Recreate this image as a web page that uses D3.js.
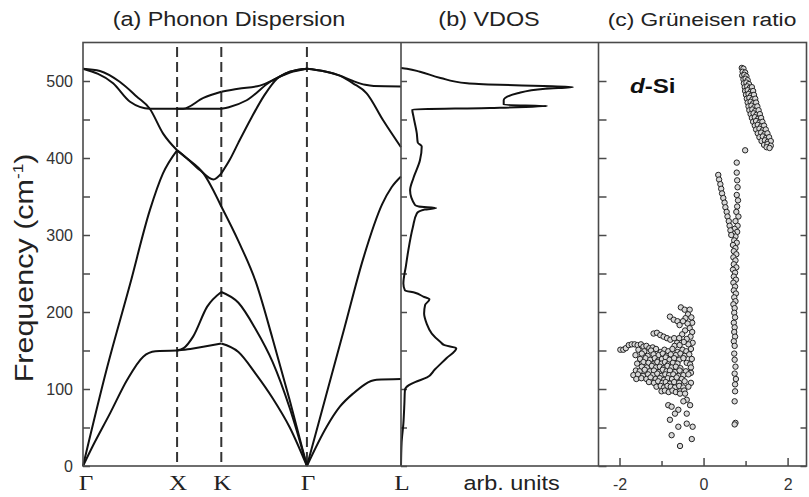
<!DOCTYPE html>
<html>
<head>
<meta charset="utf-8">
<script src="https://cdn.jsdelivr.net/npm/d3@7"></script>
<style>
body { margin: 0; background: #fff; }
svg { display: block; font-family: "Liberation Sans", Arial, sans-serif; }
</style>
</head>
<body>
<script>
var width = 809,
    height = 497;

// high symmetry points along the path (path units)
var kLabels = ["\u0393", "X", "K", "\u0393", "L"];
var kPoints = [0, 1, 1.47, 2.38, 3.38];

// dispersion branches, [k, frequency in cm-1]
var gxTA = [[0,0],[0.1,25],[0.29,69],[0.47,112],[0.64,142],[0.77,149],[1,150]];
var gxLA = [[0,0],[0.25,125],[0.5,236],[0.71,332],[0.85,380],[1,410]];
var gxLO = [[0,516],[0.18,513],[0.39,499],[0.57,480],[0.71,464],[0.85,432],[1,410]];
var gxTO = [[0,516],[0.32,497],[0.5,473],[0.71,464],[1,464]];

var xkTO1 = [[1,464],[1.47,464]];
var xkTO2 = [[1,464],[1.064,464],[1.28,478],[1.47,486]];
var xkLO = [[1,410],[1.1,400],[1.245,384],[1.386,372],[1.47,380]];
var xkLA = [[1,410],[1.1,400],[1.28,380],[1.47,337]];
var xkTA1 = [[1,150],[1.07,153],[1.17,168],[1.32,207],[1.47,226]];
var xkTA2 = [[1,150],[1.14,152],[1.47,159]];

var kgTO1 = [[1.47,486],[1.65,490],[1.88,494],[2.05,503],[2.2,512],[2.38,516]];
var kgTO2 = [[1.47,464],[1.55,466],[1.74,475],[1.99,499],[2.2,511],[2.38,516]];
var kgLO = [[1.47,380],[1.561,398],[1.652,420],[1.789,452],[1.925,481],[2.062,503],[2.198,512],[2.38,516]];
var kgLA = [[1.47,337],[1.652,292],[1.834,240],[2.016,165],[2.198,85],[2.38,0]];
var kgTA1 = [[1.47,226],[1.652,212],[1.834,178],[2.016,135],[2.198,75],[2.38,0]];
var kgTA2 = [[1.47,159],[1.652,148],[1.834,120],[2.016,88],[2.198,50],[2.38,0]];

var glTO = [[2.38,516],[2.55,513],[2.73,507],[2.87,500],[3.0,495],[3.09,493.5],[3.38,493]];
var glLO = [[2.38,516],[2.55,513],[2.73,507],[2.87,497],[3.015,484],[3.19,449],[3.38,414]];
var glLA = [[2.38,0],[2.58,90],[2.78,180],[2.98,270],[3.18,340],[3.28,362],[3.38,376]];
var glTA = [[2.38,0],[2.59,51],[2.73,77],[2.87,94],[3.12,112],[3.38,113]];

var branches = [gxTA, gxLA, gxLO, gxTO, xkTO1, xkTO2, xkLO, xkLA, xkTA1, xkTA2,
                kgTO1, kgTO2, kgLO, kgLA, kgTA1, kgTA2, glTO, glLO, glLA, glTA];

// vibrational density of states (arb. units)
var vdosFreq = [0, 30, 55, 80, 99, 105, 109, 115, 125, 140, 153, 157, 161, 172, 185, 198, 209, 216.5,
                220, 225, 228, 237, 260, 280, 310, 328, 333, 335, 337, 339, 358, 374, 397, 415, 420,
                432, 454, 463, 465, 467.5, 469, 475, 484, 490, 492, 493.5, 495, 497, 504, 512, 516, 517];
var vdosVal = [0, 0.3, 1.2, 1.7, 2.0, 4, 7.1, 13.2, 17, 23, 28, 22, 20, 15.6, 13, 11.7, 12.2, 14.4,
               11.3, 7.1, 2.0, 1.2, 2.5, 3.7, 6, 8, 12, 17.8, 9, 7.1, 4.6, 6.3, 9.6, 10.5, 8.5,
               8, 6.3, 5.7, 45, 74, 52, 52, 59, 73, 87, 72, 50, 33.5, 20, 9.6, 3, 0];

// Grueneisen ratio, [gamma, frequency]
var gruTop = [[0.91,517],[0.95,516],[0.93,512],[0.99,511],[0.92,507],[0.97,508],[1.02,506],
  [0.95,502],[1.00,503],[1.05,501],[0.96,497],[1.02,498],[1.08,496],
  [0.98,492],[1.04,493],[1.10,491],[1.15,492],[0.99,487],[1.05,488],[1.12,486],[1.18,487],
  [1.01,482],[1.07,483],[1.13,481],[1.20,482],[1.03,477],[1.09,478],[1.16,476],[1.23,477],
  [1.05,472],[1.12,473],[1.18,471],[1.25,472],[1.07,467],[1.14,468],[1.21,466],[1.28,467],
  [1.09,462],[1.16,463],[1.23,461],[1.31,462],[1.12,457],[1.19,458],[1.26,456],[1.34,457],
  [1.15,452],[1.22,453],[1.30,451],[1.37,452],[1.18,447],[1.25,448],[1.33,446],[1.40,447],
  [1.22,442],[1.29,443],[1.37,441],[1.44,442],[1.25,437],[1.33,438],[1.41,436],[1.48,437],
  [1.29,432],[1.37,433],[1.45,431],[1.52,432],[1.33,427],[1.41,428],[1.49,426],[1.56,427],
  [1.38,422],[1.46,423],[1.53,421],[1.60,422],[1.44,417],[1.52,418],[1.60,416],
  [1.50,414],[1.57,413],[0.99,410]];

var gruMid = [[0.79,394],[0.79,381],[0.80,371],[0.81,362],[0.79,352],[0.82,345],[0.80,337],[0.78,330],
  [0.83,324],[0.76,318],[0.81,312],[0.74,308],[0.80,304],[0.70,302],[0.76,298],[0.73,293],[0.79,290],
  [0.70,287],[0.76,283],[0.72,279],[0.78,275],[0.71,271],[0.76,267],[0.72,262],[0.78,258],[0.70,255],
  [0.75,251],[0.72,246],[0.77,242],[0.71,238],[0.75,233],[0.72,228],[0.77,224],[0.73,219],[0.76,214],
  [0.71,210],[0.74,205],[0.73,199],[0.75,193],[0.72,186],[0.74,180],[0.73,174],[0.75,168],[0.72,162],
  [0.74,156],[0.73,146],[0.74,138],[0.76,129],[0.74,120],[0.77,113],[0.75,106],[0.75,97],[0.74,84],
  [0.76,56],[0.74,54],
  [0.35,378],[0.37,372],[0.40,366],[0.42,360],[0.44,354],[0.47,348],[0.50,342],[0.52,336],[0.55,330],
  [0.57,324],[0.60,318],[0.62,312],[0.64,306],[0.66,300]];

var gruLow = [[-0.54,206],[-0.45,203],[-0.33,203],[-0.37,197],[-0.29,193],[-0.43,192],[-0.80,194],
  [-0.71,190],[-0.62,188],[-0.49,188],[-0.27,186],[-0.38,185],[-0.57,183],[-0.33,179],[-0.27,174],
  [-0.44,176],[-0.51,171],[-1.19,172],[-1.11,173],[-1.03,170],[-0.95,168],[-0.87,166],[-0.79,164],
  [-0.70,166],[-0.31,168],[-0.40,165],[-0.58,166],[-0.63,160],[-0.26,160],[-0.36,158],[-0.47,161],
  [-0.69,156],[-0.57,157],
  [-1.98,151],[-1.91,151],[-1.85,153],[-1.78,157],[-1.71,158],[-1.64,158],[-1.57,157],[-1.49,158],
  [-1.43,155],[-1.36,156],[-1.29,153],[-1.21,154],
  [-1.55,151],[-1.41,149],[-1.25,150],[-1.13,152],[-1.02,148],[-0.93,151],[-0.84,149],[-0.74,152],
  [-0.62,148],[-0.50,151],[-0.41,149],[-0.30,152],
  [-1.62,144],[-1.47,146],[-1.33,143],[-1.19,145],[-1.07,144],[-0.97,146],[-0.88,143],[-0.78,145],
  [-0.66,144],[-0.55,146],[-0.45,143],[-0.34,145],
  [-1.51,139],[-1.38,140],[-1.27,138],[-1.16,140],[-1.08,137],[-0.99,139],[-0.90,141],[-0.81,138],
  [-0.70,140],[-0.58,138],[-0.48,140],[-0.28,139],
  [-1.58,133],[-1.43,135],[-1.31,134],[-1.20,132],[-1.10,135],[-1.00,133],[-0.92,135],[-0.84,132],
  [-0.73,134],[-0.62,133],[-0.40,134],[-0.32,132],
  [-1.47,129],[-1.35,128],[-1.23,130],[-1.13,128],[-1.04,129],[-0.95,127],[-0.86,130],[-0.76,128],
  [-0.66,129],[-0.55,127],[-0.30,128],
  [-1.61,124],[-1.52,123],[-1.40,125],[-1.28,123],[-1.18,124],[-1.06,122],[-0.97,125],[-0.88,123],
  [-0.80,124],[-0.68,122],[-0.57,124],[-0.42,123],[-0.30,121],
  [-1.67,118],[-1.56,119],[-1.44,117],[-1.32,119],[-1.21,118],[-1.10,120],[-1.00,117],[-0.91,119],
  [-0.82,118],[-0.72,119],[-0.60,117],[-0.48,118],[-0.36,119],
  [-1.60,113],[-1.48,114],[-1.36,113],[-1.26,115],[-1.14,113],[-1.04,114],[-0.94,112],[-0.85,114],
  [-0.75,113],[-0.64,115],[-0.52,113],
  [-1.30,109],[-1.18,108],[-1.08,110],[-0.98,108],[-0.90,109],[-0.80,107],[-0.70,109],[-0.58,108],
  [-0.45,110],[-0.30,108],
  [-1.12,103],[-1.02,104],[-0.94,102],[-0.86,104],[-0.78,103],[-0.68,102],[-0.58,104],[-0.48,102],[-0.36,103],
  [-1.00,97],[-0.92,98],[-0.83,96],[-0.74,98],[-0.66,96],[-0.56,97],[-0.46,98],
  [-0.56,94],[-0.44,94],[-0.40,86],[-0.48,84],[-0.84,79],[-0.76,77],[-0.32,79],[-0.60,73],[-0.68,68],
  [-0.40,68],[-0.80,60],[-0.40,55],[-0.26,51],[-0.60,51],[-0.76,40],[-0.28,35],[-0.56,26]];

var freqTicks = [0, 50, 100, 150, 200, 250, 300, 350, 400, 450, 500];
var gammaTicks = [-2, -1, 0, 1, 2];

var svg = d3.select("body").append("svg")
    .attr("width", width)
    .attr("height", height);

var y = d3.scaleLinear().domain([0, 550]).range([466, 42.5]);
var xk = d3.scaleLinear().domain([0, 3.38]).range([83, 401]);
var xd = d3.scaleLinear().domain([0, 100]).range([401, 598.5]);
var xg = d3.scaleLinear().domain([-2.5, 2.45]).range([598.5, 806.5]);

var frameColor = "#4a4a4a";

// stretched text helper (the figure is slightly wider than tall)
function label(txt, x, yy, size, sx, anchor) {
  var g = svg.append("g").attr("transform", "translate(" + x + "," + yy + ")");
  return g.append("text")
    .attr("transform", "scale(" + sx + ",1)")
    .attr("text-anchor", anchor || "middle")
    .style("font-size", size + "px")
    .style("fill", "#222")
    .text(txt);
}

// titles
label("(a) Phonon Dispersion", 229, 26, 19.5, 1.2);
label("(b) VDOS", 489, 26, 19.5, 1.2);
label("(c) Gr\u00fcneisen ratio", 702, 26, 19, 1.2);

// y axis on the left of panel (a)
var yAxis = d3.axisLeft(y).tickValues(freqTicks)
    .tickSizeInner(-7).tickSizeOuter(0).tickPadding(10)
    .tickFormat(function(d) { return d % 100 === 0 ? d : ""; });
var ya = svg.append("g").attr("transform", "translate(83,0)").call(yAxis);
ya.select(".domain").remove();
ya.selectAll("line").attr("stroke", frameColor).attr("stroke-width", 1.5);
ya.selectAll("text").style("font-size", "16px").style("fill", "#333")
  .style("font-family", "Liberation Sans, Arial, sans-serif");

// inward ticks on the panel separators
var bTicks = svg.append("g").attr("transform", "translate(401,0)")
    .call(d3.axisRight(y).tickValues(freqTicks).tickSizeInner(6).tickSizeOuter(0).tickFormat(""));
var cTicks = svg.append("g").attr("transform", "translate(598.5,0)")
    .call(d3.axisRight(y).tickValues(freqTicks).tickSizeInner(8).tickSizeOuter(0).tickFormat(""));
var rTicks = svg.append("g").attr("transform", "translate(806.5,0)")
    .call(d3.axisLeft(y).tickValues(freqTicks).tickSizeInner(6).tickSizeOuter(0).tickFormat(""));
[bTicks, cTicks, rTicks].forEach(function(a) {
  a.select(".domain").remove();
  a.selectAll("line").attr("stroke", frameColor).attr("stroke-width", 1.5);
});

// gamma axis
var gAxis = d3.axisBottom(xg).tickValues(gammaTicks)
    .tickSizeInner(-8).tickSizeOuter(0).tickPadding(13)
    .tickFormat(function(d) { return d % 2 === 0 ? d : ""; });
var ga = svg.append("g").attr("transform", "translate(0,466)").call(gAxis);
ga.select(".domain").remove();
ga.selectAll("line").attr("stroke", frameColor).attr("stroke-width", 1.5)
  .attr("y2", function(d) { return d % 2 === 0 ? -8 : -5; });
ga.selectAll("text").style("font-size", "16px").style("fill", "#333")
  .style("font-family", "Liberation Sans, Arial, sans-serif");

// dashed lines at the inner symmetry points
svg.append("g").selectAll("line")
  .data(kPoints.slice(1, 4)).enter().append("line")
  .attr("x1", function(d) { return xk(d); })
  .attr("x2", function(d) { return xk(d); })
  .attr("y1", 47).attr("y2", 466)
  .attr("stroke", "#333").attr("stroke-width", 2)
  .attr("stroke-dasharray", "10,5");

// dispersion curves
var line = d3.line()
  .x(function(d) { return xk(d[0]); })
  .y(function(d) { return y(d[1]); })
  .curve(d3.curveMonotoneX);

svg.append("g").selectAll("path")
  .data(branches).enter().append("path")
  .attr("d", line)
  .attr("fill", "none").attr("stroke", "#111").attr("stroke-width", 2);

// k labels
kPoints.forEach(function(k, i) {
  var g = svg.append("g").attr("transform", "translate(" + (xk(k) + (i === 0 ? 3 : 1)) + ",490)");
  g.append("text").attr("transform", "scale(1.2,1)").attr("text-anchor", "middle")
    .style("font-family", "Liberation Serif, Times New Roman, serif")
    .style("font-size", "21px").style("fill", "#222")
    .text(kLabels[i]);
});

// VDOS
var vdos = vdosFreq.map(function(f, i) { return [vdosVal[i], f]; });
svg.append("path")
  .datum(vdos)
  .attr("d", d3.line()
    .x(function(d) { return xd(d[0]); })
    .y(function(d) { return y(d[1]); })
    .curve(d3.curveMonotoneY))
  .attr("fill", "none").attr("stroke", "#111").attr("stroke-width", 2);

label("arb. units", 511.5, 490, 19.5, 1.2);

// Grueneisen ratio scatter
svg.append("g").selectAll("circle")
  .data(gruLow.concat(gruMid, gruTop)).enter().append("circle")
  .attr("cx", function(d) { return xg(d[0]); })
  .attr("cy", function(d) { return y(d[1]); })
  .attr("r", 2.7)
  .attr("fill", "#d8d8d8").attr("stroke", "#222").attr("stroke-width", 1);

var ds = svg.append("g").attr("transform", "translate(630,93)")
  .append("text").attr("transform", "scale(1.15,1)")
  .style("font-size", "21px").style("font-weight", "bold").style("fill", "#111");
ds.append("tspan").style("font-style", "italic").text("d");
ds.append("tspan").text("-Si");

// frame
var frame = svg.append("g").attr("fill", "none").attr("stroke", frameColor).attr("stroke-width", 1.6);
frame.append("rect").attr("x", 83).attr("y", 42.5).attr("width", 806.5 - 83).attr("height", 466 - 42.5);
[401, 598.5].forEach(function(x) {
  frame.append("line").attr("x1", x).attr("x2", x).attr("y1", 42.5).attr("y2", 466);
});

// y label (stretched along its length like the rest of the text)
var yl = svg.append("g").attr("transform", "translate(33,268) rotate(-90)")
  .append("text").attr("text-anchor", "middle").attr("transform", "scale(1.22,1)")
  .style("font-size", "25px").style("fill", "#222");
yl.append("tspan").text("Frequency (cm");
yl.append("tspan").attr("dy", -10).style("font-size", "14px").text("-1");
yl.append("tspan").attr("dy", 10).text(")");
</script>
</body>
</html>
